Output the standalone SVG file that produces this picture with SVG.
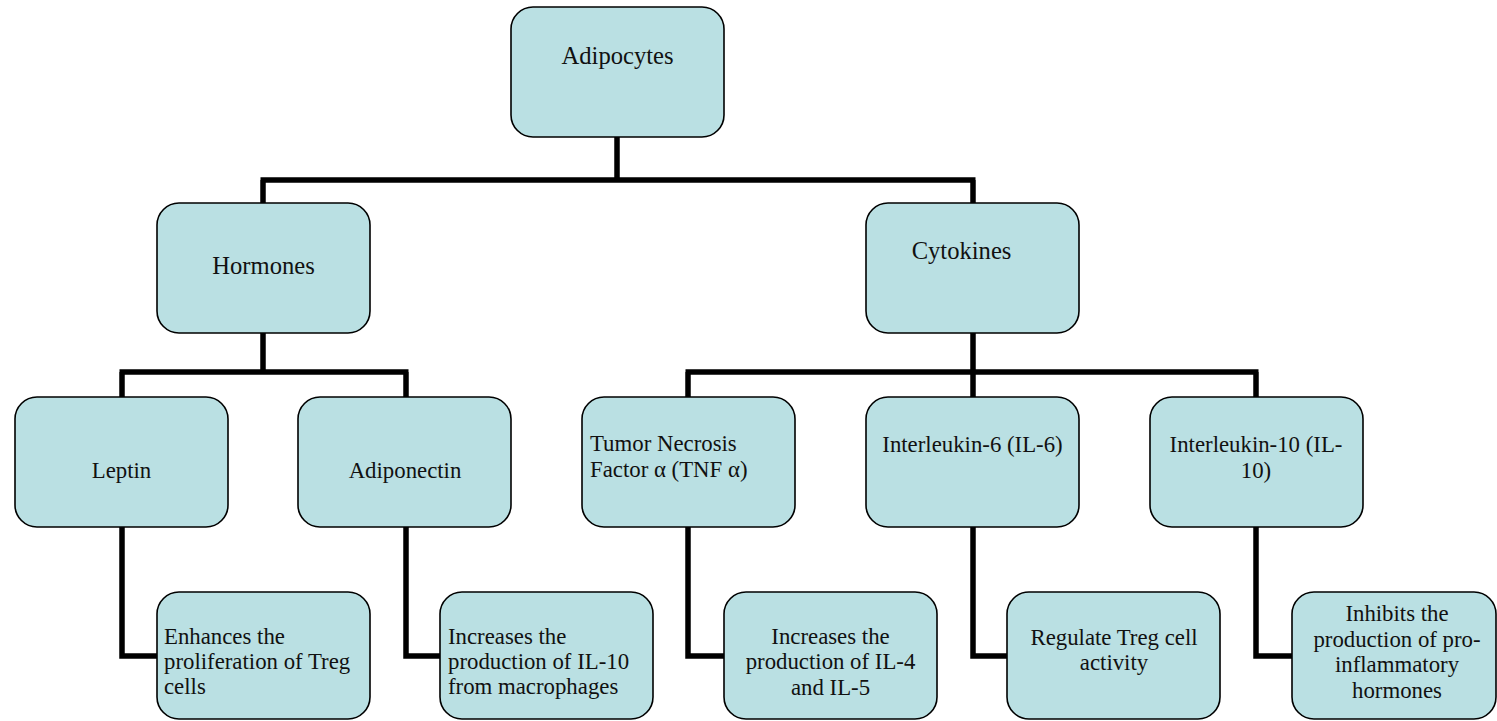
<svg xmlns="http://www.w3.org/2000/svg" width="1497" height="721" viewBox="0 0 1497 721">
<style>
.box{fill:#bae0e3;stroke:#000;stroke-width:1.6}
.t{font-family:"Liberation Serif","Times New Roman",serif;font-size:22.8px;fill:#111}
.big{font-size:24.6px}
.c{text-anchor:middle}
.conn{fill:none;stroke:#000;stroke-width:5.5;stroke-linejoin:miter}
</style>
<rect width="1497" height="721" fill="#fff"/>
<g id="connectors" class="conn">
<path d="M617,137 V180 M260.5,180 H975.5 M263,180 V203 M973,180 V203"/>
<path d="M263,333 V372 M119.5,372 H408.5 M122,372 V397 M406,372 V397"/>
<path d="M973,333 V372 M685.5,372 H1258.5 M688,372 V397 M973,372 V397 M1256,372 V397"/>
<path d="M122,527 V656 H157"/>
<path d="M406,527 V656 H440"/>
<path d="M688,527 V656 H724"/>
<path d="M973,527 V656 H1007"/>
<path d="M1256,527 V656 H1292"/>
</g>
<g id="adipocytes"><rect class="box" x="511" y="7" width="213" height="130" rx="22"/><text class="t big c" x="617.5" y="64">Adipocytes</text></g>
<g id="hormones"><rect class="box" x="157" y="203" width="213" height="130" rx="22"/><text class="t big c" x="263.5" y="274">Hormones</text></g>
<g id="cytokines"><rect class="box" x="866" y="203" width="213" height="130" rx="22"/><text class="t big c" x="961.5" y="259">Cytokines</text></g>
<g id="leptin"><rect class="box" x="15" y="397" width="213" height="130" rx="22"/><text class="t c" x="121.5" y="478">Leptin</text></g>
<g id="adiponectin"><rect class="box" x="298" y="397" width="213" height="130" rx="22"/><text class="t c" x="405" y="478">Adiponectin</text></g>
<g id="tnf"><rect class="box" x="582" y="397" width="213" height="130" rx="22"/><text class="t" x="590" y="451">Tumor Necrosis</text><text class="t" x="590" y="477">Factor α (TNF α)</text></g>
<g id="il6"><rect class="box" x="866" y="397" width="213" height="130" rx="22"/><text class="t c" x="972.5" y="452">Interleukin-6 (IL-6)</text></g>
<g id="il10"><rect class="box" x="1150" y="397" width="213" height="130" rx="22"/><text class="t c" x="1256" y="452">Interleukin-10 (IL-</text><text class="t c" x="1256" y="478">10)</text></g>
<g id="leptin-effect"><rect class="box" x="157" y="592" width="213" height="127" rx="22"/><text class="t" x="164" y="644">Enhances the</text><text class="t" x="164" y="669">proliferation of Treg</text><text class="t" x="164" y="694">cells</text></g>
<g id="adiponectin-effect"><rect class="box" x="440" y="592" width="213" height="127" rx="22"/><text class="t" x="448" y="644">Increases the</text><text class="t" x="448" y="669">production of IL-10</text><text class="t" x="448" y="694">from macrophages</text></g>
<g id="tnf-effect"><rect class="box" x="724" y="592" width="213" height="127" rx="22"/><text class="t c" x="830.5" y="644">Increases the</text><text class="t c" x="830.5" y="669">production of IL-4</text><text class="t c" x="830.5" y="695">and IL-5</text></g>
<g id="il6-effect"><rect class="box" x="1007" y="592" width="213" height="127" rx="22"/><text class="t c" x="1114" y="645">Regulate Treg cell</text><text class="t c" x="1114" y="670">activity</text></g>
<g id="il10-effect"><rect class="box" x="1292" y="592" width="204" height="127" rx="22"/><text class="t c" x="1397" y="621">Inhibits the</text><text class="t c" x="1397" y="647">production of pro-</text><text class="t c" x="1397" y="672">inflammatory</text><text class="t c" x="1397" y="698">hormones</text></g>
</svg>
